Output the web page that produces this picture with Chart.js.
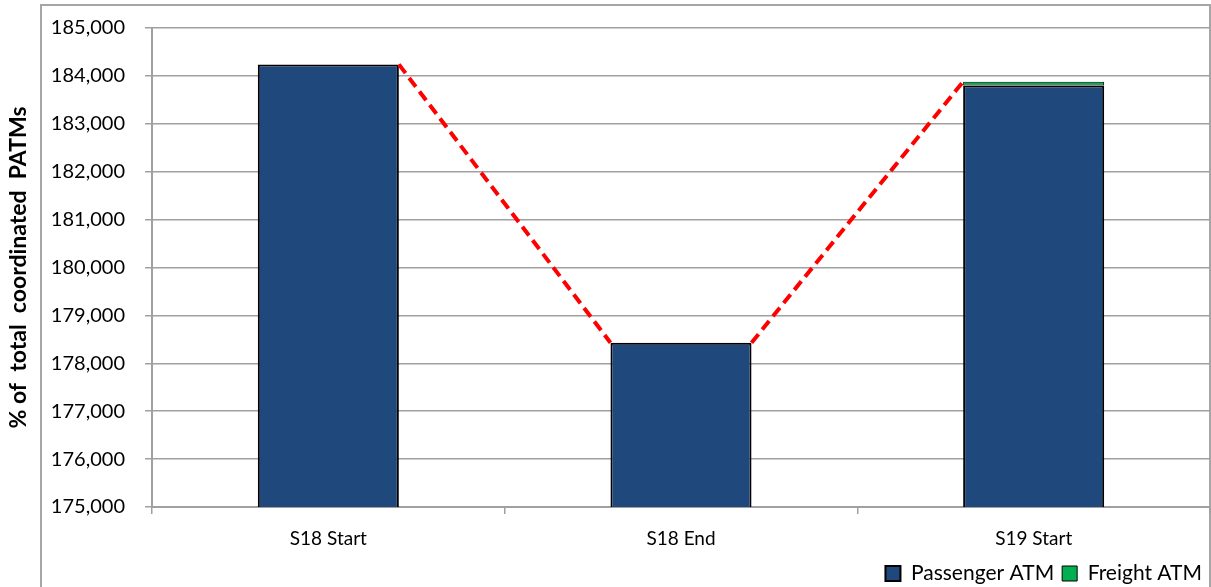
<!DOCTYPE html>
<html>
<head>
<meta charset="utf-8">
<script src="https://cdn.jsdelivr.net/npm/chart.js@4"></script>
<style>
  html, body { margin: 0; padding: 0; background: #fff; }
  #wrap { width: 1211px; height: 587px; }
</style>
</head>
<body>
<div id="wrap"><canvas id="atmChart"></canvas></div>
<script>
// Data
const seasons = ['S18 Start', 'S18 End', 'S19 Start'];
const passengerAtm = [184240, 178430, 183800];
const freightAtm = [0, 0, 80];
const yMin = 175000;
const yMax = 185000;
const yStep = 1000;

const FONT = 'Lato, "Liberation Sans", sans-serif';

// Outer frame of the chart area (as in the original spreadsheet export)
const framePlugin = {
    id: 'frame',
    beforeDraw(chart) {
        const ctx = chart.ctx;
        ctx.save();
        ctx.fillStyle = '#ffffff';
        ctx.fillRect(0, 0, chart.width, chart.height);
        ctx.strokeStyle = '#a6a6a6';
        ctx.lineWidth = 2;
        ctx.beginPath();
        ctx.moveTo(41, chart.height);
        ctx.lineTo(41, 5);
        ctx.lineTo(chart.width - 1, 5);
        ctx.lineTo(chart.width - 1, chart.height);
        ctx.stroke();
        ctx.restore();
    }
};

// Red dashed connector between stack tops
const connectorPlugin = {
    id: 'connector',
    afterDatasetsDraw(chart) {
        const meta = chart.getDatasetMeta(chart.data.datasets.length - 1);
        const ctx = chart.ctx;
        ctx.save();
        ctx.strokeStyle = '#ff0000';
        ctx.lineWidth = 4;
        ctx.setLineDash([11, 6]);
        ctx.beginPath();
        for (let i = 0; i < meta.data.length - 1; i++) {
            const a = meta.data[i], b = meta.data[i + 1];
            ctx.moveTo(a.x + a.width / 2, a.y);
            ctx.lineTo(b.x - b.width / 2, b.y);
        }
        ctx.stroke();
        ctx.restore();
    }
};

const ctx = document.getElementById('atmChart').getContext('2d');
new Chart(ctx, {
    type: 'bar',
    data: {
        labels: seasons,
        datasets: [{
            label: 'Passenger ATM',
            data: passengerAtm,
            backgroundColor: '#1f497d',
            borderColor: '#000000',
            borderWidth: 2,
            borderSkipped: false,
            barPercentage: 0.4,
            categoryPercentage: 1
        }, {
            label: 'Freight ATM',
            data: freightAtm,
            backgroundColor: '#00b050',
            borderColor: '#000000',
            borderWidth: 1,
            borderSkipped: false,
            barPercentage: 0.4,
            categoryPercentage: 1
        }]
    },
    options: {
        responsive: true,
        maintainAspectRatio: false,
        animation: false,
        layout: { padding: { top: 28, right: 1, bottom: -7, left: 0 } },
        plugins: {
            title: { display: false },
            tooltip: { enabled: false },
            legend: {
                position: 'bottom',
                align: 'end',
                labels: {
                    color: '#000',
                    font: { family: FONT, size: 21 },
                    boxWidth: 15,
                    boxHeight: 15,
                    padding: 8
                }
            }
        },
        scales: {
            x: {
                stacked: true,
                afterFit(scale) { scale.height = 48; },
                grid: {
                    drawOnChartArea: false,
                    drawTicks: true,
                    tickLength: 7,
                    color: '#a0a0a0',
                    lineWidth: 1.5
                },
                border: { color: '#a0a0a0', width: 2 },
                ticks: {
                    color: '#000',
                    font: { family: FONT, size: 19 },
                    padding: 13
                }
            },
            y: {
                stacked: true,
                min: yMin,
                max: yMax,
                afterFit(scale) {
                    scale.width = 152;
                    scale.paddingTop = 0;
                    scale.paddingBottom = 0;
                },
                grid: {
                    color: '#a0a0a0',
                    lineWidth: 1.5,
                    tickLength: 7
                },
                border: { color: '#a0a0a0', width: 2 },
                ticks: {
                    stepSize: yStep,
                    color: '#000',
                    font: { family: FONT, size: 20 },
                    padding: 20,
                    callback: v => v.toLocaleString('en-US')
                },
                title: {
                    display: true,
                    text: '% of  total  coordinated  PATMs',
                    color: '#000',
                    font: { family: FONT, size: 23, weight: 'bold' },
                    padding: { top: 5, bottom: 0 }
                }
            }
        }
    },
    plugins: [framePlugin, connectorPlugin]
});
</script>
</body>
</html>
